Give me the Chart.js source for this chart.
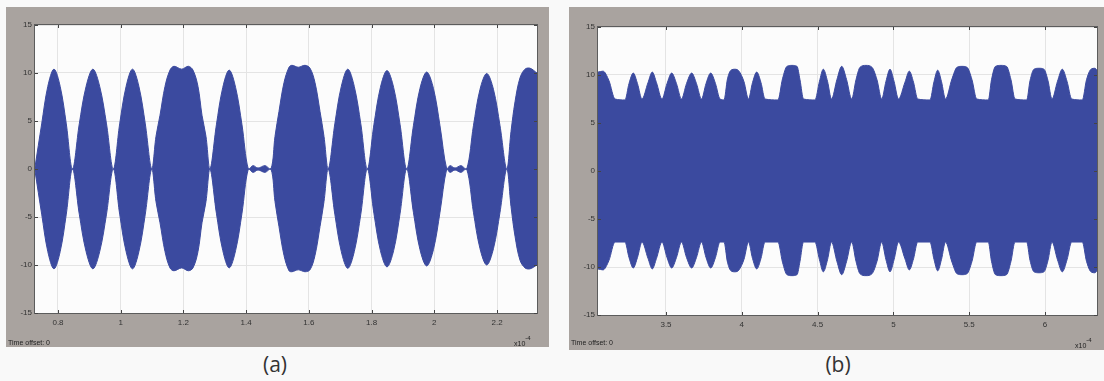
<!DOCTYPE html>
<html>
<head>
<meta charset="utf-8">
<title>Scope traces</title>
<script src="https://cdn.jsdelivr.net/npm/chart.js@4/dist/chart.umd.min.js"></script>
<style>
    body {
        margin: 0;
        width: 1104px;
        height: 381px;
        position: relative;
        overflow: hidden;
        background: #f9f9f9;
        font-family: 'Liberation Sans', Arial, sans-serif;
    }
    .scope { position: absolute; }
    .scope canvas { display: block; }
    .offset, .scale-exp {
        position: absolute;
        font-size: 7px;
        color: #222;
        white-space: nowrap;
    }
    .scale-exp span {
        position: relative;
        top: -6px;
        font-size: 6px;
    }
    .caption {
        position: absolute;
        top: 350px;
        font-family: 'Open Sans', sans-serif;
        font-size: 21px;
        color: #333;
        transform: translateX(-50%);
    }
</style>
</head>
<body>
<div class="scope" style="left:6px;top:7px;width:543px;height:340px">
    <canvas id="scope-a" width="543" height="340"></canvas>
    <div class="offset" style="left:2px;top:332px">Time offset: 0</div>
    <div class="scale-exp" style="left:508px;top:333px">x10<span>-4</span></div>
</div>
<div class="scope" style="left:569px;top:7px;width:535px;height:343px">
    <canvas id="scope-b" width="535" height="343"></canvas>
    <div class="offset" style="left:2px;top:332px">Time offset: 0</div>
    <div class="scale-exp" style="left:506px;top:335px">x10<span>-4</span></div>
</div>
<div class="caption" style="left:275px">(a)</div>
<div class="caption" style="left:838px">(b)</div>

<script>
// envelope of trace (a): time (x1e-4 s) and upper / lower amplitude
const timeA = [
    0.7267, 0.7480, 0.7675, 0.7872, 0.8070, 0.8265, 0.8462,
    0.8679, 0.8896, 0.9113, 0.9330, 0.9547, 0.9763,
    0.9967, 1.0172, 1.0376, 1.0580, 1.0784, 1.0988,
    1.1125, 1.1253, 1.1412, 1.1571, 1.1699, 1.1945, 1.2155, 1.2305, 1.2464, 1.2592, 1.2719, 1.2847,
    1.3051, 1.3255, 1.3459, 1.3663, 1.3867, 1.4068,
    1.4218, 1.4378, 1.4601, 1.4792,
    1.4920, 1.5047, 1.5207, 1.5366, 1.5462, 1.5663, 1.5876, 1.6036, 1.6195, 1.6355, 1.6482, 1.6619,
    1.6827, 1.7034, 1.7241, 1.7448, 1.7656, 1.7863,
    1.8073, 1.8281, 1.8491, 1.8702, 1.8909, 1.9119,
    1.9333, 1.9543, 1.9757, 1.9971, 2.0181, 2.0395,
    2.0500, 2.0660, 2.0851, 2.1033,
    2.1247, 2.1457, 2.1671, 2.1885, 2.2095, 2.2309,
    2.2445, 2.2573, 2.2732, 2.2892, 2.3051, 2.3274
];
const upperA = [
    0.2, 4.7, 8.6, 10.4, 8.6, 4.7, 0,
    4.7, 8.6, 10.4, 8.6, 4.7, 0,
    4.7, 8.6, 10.4, 8.6, 4.7, 0,
    3.4, 5.6, 8.6, 10.3, 10.7, 10.4, 10.7, 10.3, 8.6, 5.6, 3.4, 0,
    4.6, 8.5, 10.3, 8.5, 4.6, 0,
    0.35, 0.1, 0.35, 0,
    3.4, 6.0, 9.0, 10.6, 10.8, 10.6, 10.8, 10.5, 9.0, 6.0, 3.4, 0,
    4.7, 8.6, 10.4, 8.6, 4.7, 0,
    4.6, 8.5, 10.25, 8.5, 4.6, 0,
    4.5, 8.4, 10.1, 8.4, 4.5, 0,
    0.35, 0.1, 0.35, 0,
    4.5, 8.3, 9.95, 8.3, 4.5, 0,
    3.9, 7.0, 9.5, 10.4, 10.5, 10.0
];
const lowerA = [
    -0.2, -4.7, -8.6, -10.4, -8.6, -4.7, 0,
    -4.7, -8.6, -10.4, -8.6, -4.7, 0,
    -4.7, -8.6, -10.4, -8.6, -4.7, 0,
    -3.4, -5.6, -8.6, -10.3, -10.6, -10.3, -10.6, -10.3, -8.6, -5.6, -3.4, 0,
    -4.6, -8.5, -10.3, -8.5, -4.6, 0,
    -0.35, -0.1, -0.35, 0,
    -3.4, -6.0, -9.0, -10.6, -10.7, -10.5, -10.7, -10.5, -9.0, -6.0, -3.4, 0,
    -4.7, -8.6, -10.35, -8.6, -4.7, 0,
    -4.6, -8.5, -10.2, -8.5, -4.6, 0,
    -4.5, -8.4, -10.1, -8.4, -4.5, 0,
    -0.35, -0.1, -0.35, 0,
    -4.5, -8.3, -10.0, -8.3, -4.5, 0,
    -3.9, -7.0, -9.5, -10.3, -10.4, -10.0
];
const ticksA = [0.8, 1, 1.2, 1.4, 1.6, 1.8, 2, 2.2];

// envelope of trace (b)
const timeB = [
    3.0515, 3.0844, 3.1240, 3.1636, 3.2296,
    3.2559, 3.2843, 3.3120, 3.3417,
    3.3813, 3.4096, 3.4373, 3.4736,
    3.5066, 3.5376, 3.5693, 3.6022,
    3.6352, 3.6695, 3.7012, 3.7342,
    3.7639, 3.7949, 3.8265, 3.8562, 3.8826,
    3.9057, 3.9288, 3.9551, 3.9815, 4.0145, 4.0442,
    4.0706, 4.0983, 4.1266, 4.1530, 4.2388,
    4.2685, 4.2982, 4.3311, 4.3641, 4.3839, 4.4070, 4.4828,
    4.5125, 4.5376, 4.5653, 4.5917,
    4.6280, 4.6590, 4.6906, 4.7249,
    4.7533, 4.7797, 4.8193, 4.8588, 4.8918, 4.9228,
    4.9512, 4.9776, 5.0040, 5.0337,
    5.0765, 5.1049, 5.1326, 5.1603, 5.2414,
    5.2678, 5.2922, 5.3173, 5.3437,
    5.3865, 5.4195, 5.4525, 5.4855, 5.5185, 5.5495, 5.6260,
    5.6471, 5.6735, 5.7098, 5.7461, 5.7757, 5.8021, 5.8793,
    5.9011, 5.9274, 5.9604, 5.9934, 6.0198, 6.0462,
    6.0825, 6.1141, 6.1451, 6.1761, 6.2461,
    6.2738, 6.3034, 6.3298, 6.3430
];
const upperB = [
    10.3, 10.4, 9.4, 7.5, 7.4,
    9.1, 10.2, 9.1, 7.5,
    9.2, 10.3, 9.2, 7.5,
    9.1, 10.2, 9.1, 7.5,
    9.1, 10.2, 9.1, 7.5,
    9.1, 10.2, 9.1, 7.5, 7.4,
    9.6, 10.5, 10.6, 10.4, 9.3, 7.5,
    9.2, 10.3, 9.2, 7.5, 7.4,
    9.6, 10.9, 11.0, 10.9, 9.5, 7.5, 7.4,
    9.35, 10.6, 9.35, 7.5,
    9.55, 10.9, 9.55, 7.5,
    9.5, 10.8, 11.0, 10.8, 9.5, 7.5,
    9.35, 10.6, 9.35, 7.5,
    9.25, 10.4, 9.25, 7.5, 7.4,
    9.3, 10.5, 9.3, 7.5,
    9.6, 10.8, 10.9, 10.8, 9.5, 7.5, 7.4,
    9.5, 10.9, 11.0, 10.9, 9.5, 7.5, 7.4,
    9.4, 10.6, 10.7, 10.6, 9.4, 7.5,
    9.35, 10.6, 9.35, 7.5, 7.4,
    9.5, 10.6, 10.7, 10.5
];
const lowerB = [
    -10.2, -10.3, -9.3, -7.4, -7.4,
    -9.0, -10.1, -9.0, -7.4,
    -9.1, -10.2, -9.1, -7.4,
    -9.0, -10.1, -9.0, -7.4,
    -9.0, -10.1, -9.0, -7.4,
    -9.0, -10.1, -9.0, -7.4, -7.4,
    -9.5, -10.4, -10.5, -10.3, -9.2, -7.4,
    -9.1, -10.2, -9.1, -7.4, -7.4,
    -9.5, -10.8, -10.9, -10.8, -9.4, -7.4, -7.4,
    -9.25, -10.5, -9.25, -7.4,
    -9.45, -10.8, -9.45, -7.4,
    -9.4, -10.7, -10.9, -10.7, -9.4, -7.4,
    -9.25, -10.5, -9.25, -7.4,
    -9.15, -10.3, -9.15, -7.4, -7.4,
    -9.2, -10.4, -9.2, -7.4,
    -9.5, -10.7, -10.8, -10.7, -9.4, -7.4, -7.4,
    -9.4, -10.8, -10.9, -10.8, -9.4, -7.4, -7.4,
    -9.3, -10.5, -10.6, -10.5, -9.3, -7.4,
    -9.25, -10.5, -9.25, -7.4, -7.4,
    -9.4, -10.5, -10.6, -10.4
];
const ticksB = [3.5, 4, 4.5, 5, 5.5, 6];

const ampTicks = [-15, -10, -5, 0, 5, 10, 15];

const TRACE_BLUE = '#3b4a9f';
const FRAME_GREY = '#a9a39f';

// grey scope housing, white plot window, border and inward tick marks
const scopeFrame = {
    id: 'scopeFrame',
    beforeDraw(chart) {
        const { ctx, chartArea: a, width, height } = chart;
        ctx.save();
        ctx.fillStyle = FRAME_GREY;
        ctx.fillRect(0, 0, width, height);
        ctx.fillStyle = '#fcfcfc';
        ctx.fillRect(a.left, a.top, a.right - a.left, a.bottom - a.top);
        ctx.restore();
    },
    afterDraw(chart) {
        const { ctx, chartArea: a, scales } = chart;
        ctx.save();
        ctx.strokeStyle = '#5c5c5c';
        ctx.lineWidth = 1;
        ctx.strokeRect(a.left - 0.5, a.top - 0.5, a.right - a.left + 1, a.bottom - a.top + 1);

        ctx.strokeStyle = '#444';
        ctx.beginPath();
        scales.x.ticks.forEach(t => {
            const px = Math.round(scales.x.getPixelForValue(t.value)) + 0.5;
            ctx.moveTo(px, a.top); ctx.lineTo(px, a.top + 3);
            ctx.moveTo(px, a.bottom); ctx.lineTo(px, a.bottom - 3);
        });
        scales.y.ticks.forEach(t => {
            const py = Math.round(scales.y.getPixelForValue(t.value)) + 0.5;
            ctx.moveTo(a.left, py); ctx.lineTo(a.left + 3, py);
            ctx.moveTo(a.right, py); ctx.lineTo(a.right - 3, py);
        });
        ctx.stroke();
        ctx.restore();
    }
};

class ScopePanel {
    constructor(canvasId, cfg) {
        this.cfg = cfg;
        this.chart = new Chart(document.getElementById(canvasId), this.buildConfig());
    }

    toPoints(values) {
        return this.cfg.time.map((t, i) => ({ x: t, y: values[i] }));
    }

    buildConfig() {
        const c = this.cfg;
        const tickFont = { family: "'Liberation Sans', Arial, sans-serif", size: 8 };
        const trace = {
            borderColor: TRACE_BLUE,
            backgroundColor: TRACE_BLUE,
            borderWidth: 1,
            pointRadius: 0,
            tension: 0.35,
            cubicInterpolationMode: c.curve
        };
        return {
            type: 'line',
            data: {
                datasets: [
                    { ...trace, data: this.toPoints(c.upper), fill: '+1' },
                    { ...trace, data: this.toPoints(c.lower), fill: false }
                ]
            },
            options: {
                responsive: false,
                animation: false,
                devicePixelRatio: 1,
                layout: { padding: c.padding },
                plugins: {
                    legend: { display: false },
                    tooltip: { enabled: false }
                },
                scales: {
                    x: {
                        type: 'linear',
                        min: c.xMin,
                        max: c.xMax,
                        afterBuildTicks: s => { s.ticks = c.xTicks.map(v => ({ value: v })); },
                        afterFit: s => { s.height = c.xAxisHeight; },
                        border: { display: false },
                        grid: { color: '#e4e4e4', drawTicks: false },
                        ticks: {
                            font: tickFont,
                            color: '#333',
                            padding: 5,
                            maxRotation: 0,
                            autoSkip: false,
                            callback: v => String(v)
                        }
                    },
                    y: {
                        min: -15,
                        max: 15,
                        afterBuildTicks: s => { s.ticks = ampTicks.map(v => ({ value: v })); },
                        afterFit: s => { s.width = 29; },
                        border: { display: false },
                        grid: { color: '#e4e4e4', drawTicks: false },
                        ticks: {
                            font: tickFont,
                            color: '#333',
                            padding: 3,
                            callback: v => String(v)
                        }
                    }
                }
            },
            plugins: [scopeFrame]
        };
    }
}

document.addEventListener('DOMContentLoaded', () => {
    new ScopePanel('scope-a', {
        time: timeA, upper: upperA, lower: lowerA,
        xMin: 0.7267, xMax: 2.3274, xTicks: ticksA,
        curve: 'default',
        padding: { top: 18, right: 12, left: 0, bottom: 0 },
        xAxisHeight: 34
    });
    new ScopePanel('scope-b', {
        time: timeB, upper: upperB, lower: lowerB,
        xMin: 3.0515, xMax: 6.343, xTicks: ticksB,
        curve: 'monotone',
        padding: { top: 20, right: 7, left: 0, bottom: 0 },
        xAxisHeight: 35
    });
});
</script>
</body>
</html>
